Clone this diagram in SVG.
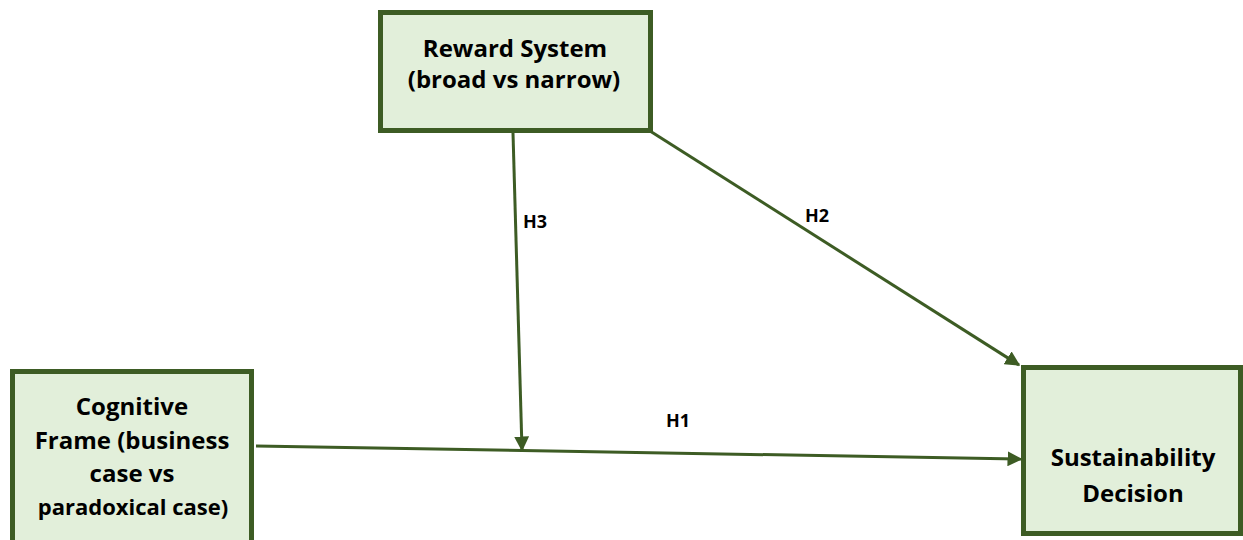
<svg xmlns="http://www.w3.org/2000/svg" width="1243" height="540" viewBox="0 0 1243 540">
<style>
.box{fill:#E2EFDA;stroke:#3D5C24;stroke-width:5}
.t{font-family:"Open Sans","Liberation Sans",sans-serif;font-weight:bold;font-size:24px;fill:#000;text-anchor:middle}
.lbl{font-family:"Open Sans","Liberation Sans",sans-serif;font-weight:bold;font-size:18px;fill:#000;text-anchor:middle}
.c{stroke:#3D5C24;stroke-width:3;fill:none;marker-end:url(#ah)}
</style>
<defs>
<marker id="ah" viewBox="0 0 10 10" refX="9" refY="5" markerWidth="5" markerHeight="5" orient="auto" markerUnits="strokeWidth">
<path d="M0,0 L10,5 L0,10 z" fill="#3D5C24"/>
</marker>
</defs>
<rect width="1243" height="540" fill="#fff"/>
<g id="reward">
<rect class="box" x="380.5" y="12.5" width="270" height="118"/>
<text class="t" x="515" y="57">Reward System</text>
<text class="t" x="514" y="88">(broad vs narrow)</text>
</g>
<g id="cognitive">
<rect class="box" x="12.5" y="371.5" width="239" height="180"/>
<text class="t" x="132" y="415">Cognitive</text>
<text class="t" x="132" y="449">Frame (business</text>
<text class="t" x="132" y="482">case vs</text>
<text class="t" x="133" y="515" font-size="22" style="font-size:22px">paradoxical case)</text>
</g>
<g id="sustainability">
<rect class="box" x="1023.5" y="367.5" width="217" height="166"/>
<text class="t" x="1133" y="466">Sustainability</text>
<text class="t" x="1133" y="502">Decision</text>
</g>
<g id="connectors">
<line class="c" x1="513" y1="133" x2="522" y2="450"/>
<line class="c" x1="650" y1="131" x2="1019" y2="365"/>
<line class="c" x1="256" y1="446" x2="1021" y2="459"/>
<text class="lbl" x="535" y="228">H3</text>
<text class="lbl" x="817" y="222">H2</text>
<text class="lbl" x="678" y="427">H1</text>
</g>
</svg>
